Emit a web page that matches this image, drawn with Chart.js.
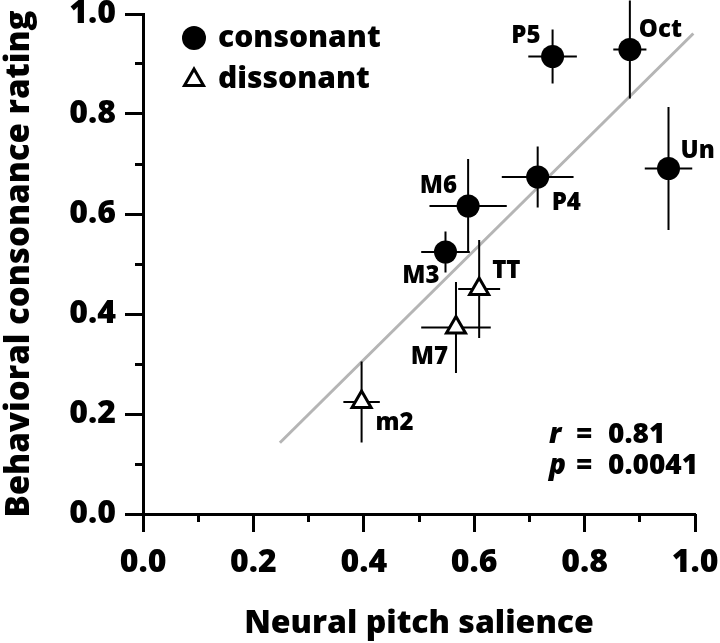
<!DOCTYPE html>
<html>
<head>
<meta charset="utf-8">
<script src="https://cdn.jsdelivr.net/npm/chart.js@4.4.1/dist/chart.umd.min.js"></script>
<style>
  html, body { margin: 0; padding: 0; background: #fff; }
  canvas { display: block; }
</style>
</head>
<body>
<canvas id="salienceChart" width="720" height="643"></canvas>
<script>
// ── Data ───────────────────────────────────────────────────────────────
var seriesNames = ["consonant", "dissonant"];

var consonantNames = ["P5", "Oct", "Un", "P4", "M6", "M3"];
var consonantX     = [0.742, 0.882, 0.952, 0.715, 0.589, 0.548];
var consonantY     = [0.915, 0.929, 0.691, 0.674, 0.616, 0.524];
var consonantXErr  = [0.044, 0.030, 0.043, 0.065, 0.070, 0.044];
var consonantYErr  = [0.054, 0.098, 0.123, 0.061, 0.094, 0.041];

var dissonantNames = ["TT", "M7", "m2"];
var dissonantX     = [0.609, 0.567, 0.396];
var dissonantY     = [0.450, 0.373, 0.224];
var dissonantXErr  = [0.038, 0.063, 0.033];
var dissonantYErr  = [0.098, 0.091, 0.081];

var fitX = [0.248, 0.997];
var fitY = [0.1425, 0.961];

var axisTicks = ["0.0", "0.2", "0.4", "0.6", "0.8", "1.0"];
var stats = [["r", "0.81"], ["p", "0.0041"]];

var xTitle = "Neural pitch salience";
var yTitle = "Behavioral consonance rating";

// ── Label placement (pixel offsets from the marker) ───────────────────
var labelPlace = {
    P5:  { dx: -12, dy: -14, align: "right" },
    Oct: { dx: 9,   dy: -13, align: "left" },
    Un:  { dx: 12,  dy: -11, align: "left" },
    P4:  { dx: 14,  dy: 33,  align: "left" },
    M6:  { dx: -11, dy: -13, align: "right" },
    M3:  { dx: -6,  dy: 31,  align: "right" },
    TT:  { dx: 13,  dy: -11, align: "left" },
    M7:  { dx: -8,  dy: 36,  align: "right" },
    m2:  { dx: 14,  dy: 28,  align: "left" }
};

var FONT = '"Open Sans", "DejaVu Sans", sans-serif';
var WEIGHT = "800";

function toPoints(xs, ys) {
    return xs.map(function (x, i) { return { x: x, y: ys[i] }; });
}

// ── Overlay: error bars, point labels, legend, stats ───────────────────
var overlay = {
    id: "overlay",
    beforeDatasetDraw: function (chart, args) {
        var ds = chart.data.datasets[args.index];
        if (!ds.errX) {
            return;
        }
        var xs = chart.scales.x, ys = chart.scales.y, ctx = chart.ctx;
        ctx.save();
        ctx.strokeStyle = "#000";
        ctx.lineWidth = 2;
        ds.data.forEach(function (p, i) {
            var px = xs.getPixelForValue(p.x), py = ys.getPixelForValue(p.y);
            ctx.beginPath();
            ctx.moveTo(xs.getPixelForValue(p.x - ds.errX[i]), py);
            ctx.lineTo(xs.getPixelForValue(p.x + ds.errX[i]), py);
            ctx.moveTo(px, ys.getPixelForValue(p.y + ds.errY[i]));
            ctx.lineTo(px, ys.getPixelForValue(p.y - ds.errY[i]));
            ctx.stroke();
        });
        ctx.restore();
    },
    afterDraw: function (chart) {
        var xs = chart.scales.x, ys = chart.scales.y, ctx = chart.ctx;
        ctx.save();
        ctx.fillStyle = "#000";
        ctx.textBaseline = "alphabetic";

        // point labels
        ctx.font = WEIGHT + " 24px " + FONT;
        chart.data.datasets.forEach(function (ds) {
            if (!ds.names) {
                return;
            }
            ds.data.forEach(function (p, i) {
                var pl = labelPlace[ds.names[i]];
                ctx.textAlign = pl.align;
                ctx.fillText(ds.names[i], xs.getPixelForValue(p.x) + pl.dx, ys.getPixelForValue(p.y) + pl.dy);
            });
        });

        // legend
        ctx.textAlign = "left";
        ctx.font = WEIGHT + " 30px " + FONT;
        ctx.fillStyle = "#000";
        Chart.helpers.drawPoint(ctx, { pointStyle: "circle", radius: 12, rotation: 0, borderWidth: 0 }, 194, 38);
        ctx.fillText(seriesNames[0], 218, 47);
        ctx.fillStyle = "#fff";
        ctx.strokeStyle = "#000";
        ctx.lineWidth = 3;
        Chart.helpers.drawPoint(ctx, { pointStyle: "triangle", radius: 11, rotation: 0, borderWidth: 3 }, 194, 80);
        ctx.fillStyle = "#000";
        ctx.fillText(seriesNames[1], 218, 88);

        // stats
        var base = [443, 474];
        stats.forEach(function (s, i) {
            ctx.font = "italic " + WEIGHT + " 28px " + FONT;
            ctx.fillText(s[0], 549, base[i]);
            ctx.font = WEIGHT + " 28px " + FONT;
            ctx.fillText("=", 576, base[i]);
            ctx.fillText(s[1], 608, base[i]);
        });
        ctx.restore();
    }
};

// ── Chart ──────────────────────────────────────────────────────────────
function renderChart() {
    var canvas = document.getElementById("salienceChart");
    new Chart(canvas, {
        type: "scatter",
        data: {
            datasets: [
                {
                    label: seriesNames[0],
                    names: consonantNames,
                    data: toPoints(consonantX, consonantY),
                    errX: consonantXErr,
                    errY: consonantYErr,
                    pointStyle: "circle",
                    pointRadius: 11.5,
                    backgroundColor: "#000",
                    borderWidth: 0,
                    order: 1
                },
                {
                    label: seriesNames[1],
                    names: dissonantNames,
                    data: toPoints(dissonantX, dissonantY),
                    errX: dissonantXErr,
                    errY: dissonantYErr,
                    pointStyle: "triangle",
                    pointRadius: 11,
                    backgroundColor: "#fff",
                    borderColor: "#000",
                    borderWidth: 3,
                    order: 2
                },
                {
                    label: "fit",
                    data: toPoints(fitX, fitY),
                    showLine: true,
                    borderColor: "#b5b5b5",
                    borderWidth: 3,
                    pointRadius: 0,
                    order: 5
                }
            ]
        },
        options: {
            responsive: false,
            animation: false,
            events: [],
            devicePixelRatio: 1,
            layout: { padding: { top: 14, right: 25, left: 0, bottom: 0 } },
            plugins: {
                legend: { display: false },
                tooltip: { enabled: false }
            },
            scales: {
                x: {
                    type: "linear",
                    position: "bottom",
                    min: 0,
                    max: 1,
                    border: { display: true, color: "#000", width: 3 },
                    grid: { drawOnChartArea: false, drawTicks: true, tickLength: 18, tickColor: "#000", tickWidth: 3 },
                    ticks: {
                        stepSize: 0.2,
                        autoSkip: false,
                        maxRotation: 0,
                        padding: 12,
                        color: "#000",
                        font: { family: FONT, size: 32, weight: WEIGHT },
                        callback: function (v, i) { return axisTicks[i]; }
                    },
                    title: {
                        display: true,
                        text: xTitle,
                        color: "#000",
                        padding: 0,
                        font: { family: FONT, size: 32, weight: WEIGHT }
                    },
                    afterFit: function (s) {
                        s.height = 129;
                        s.paddingLeft = 0;
                        s.paddingRight = 0;
                    }
                },
                y: {
                    type: "linear",
                    position: "left",
                    min: 0,
                    max: 1,
                    border: { display: true, color: "#000", width: 3 },
                    grid: { drawOnChartArea: false, drawTicks: true, tickLength: 18, tickColor: "#000", tickWidth: 3 },
                    ticks: {
                        stepSize: 0.2,
                        autoSkip: false,
                        padding: 9,
                        color: "#000",
                        font: { family: FONT, size: 32, weight: WEIGHT },
                        callback: function (v, i) { return axisTicks[i]; }
                    },
                    title: {
                        display: true,
                        text: yTitle,
                        color: "#000",
                        padding: 0,
                        font: { family: FONT, size: 33, weight: WEIGHT }
                    },
                    afterFit: function (s) {
                        s.width = 143;
                        s.paddingTop = 0;
                        s.paddingBottom = 0;
                    }
                },
                xMinor: {
                    type: "linear",
                    axis: "x",
                    position: { y: 0 },
                    min: 0,
                    max: 1,
                    border: { display: false },
                    grid: { drawOnChartArea: false, drawTicks: true, tickLength: 8, tickColor: "#000", tickWidth: 3 },
                    ticks: { stepSize: 0.1, display: false }
                },
                yMinor: {
                    type: "linear",
                    axis: "y",
                    position: { x: 0 },
                    min: 0,
                    max: 1,
                    border: { display: false },
                    grid: { drawOnChartArea: false, drawTicks: true, tickLength: 8, tickColor: "#000", tickWidth: 3 },
                    ticks: { stepSize: 0.1, display: false }
                }
            }
        },
        plugins: [overlay]
    });
}

Promise.all([
    document.fonts.load('800 32px "Open Sans"'),
    document.fonts.load('italic 800 28px "Open Sans"')
]).then(renderChart, renderChart);
</script>
</body>
</html>
